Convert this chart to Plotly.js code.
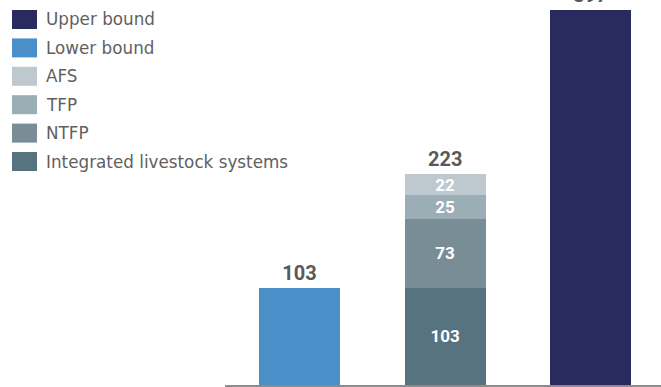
<!DOCTYPE html>
<html>
<head>
<meta charset="utf-8">
<script src="https://cdn.plot.ly/plotly-3.0.1.min.js"></script>
<style>html,body{margin:0;padding:0;background:#fff;}#chart{width:661px;height:387px;}</style>
</head>
<body>
<div id="chart"></div>
<script>
// Data
const categories = [0, 1, 2]; // Lower bound bar, stacked components bar, Upper bound bar
const lowerBound = [103];
const upperBound = [397];
const integratedLivestock = [103];
const ntfp = [73];
const tfp = [25];
const afs = [22];
const stackTotal = [223];

const legendNames = ["Upper bound", "Lower bound", "AFS", "TFP", "NTFP", "Integrated livestock systems"];
const legendColors = ["#292a5e", "#4b8fc9", "#bec9cf", "#9badb5", "#798d97", "#57737f"];

const W = 661, H = 387, ML = 225, MR = 0, MT = 0, MB = 2;
const pw = W - ML - MR, ph = H - MT - MB;
const px = x => (x - ML) / pw;
const py = y => (H - MB - y) / ph;

const barWidth = 0.557;
const numFont = {family: "Roboto, sans-serif", size: 17, color: "#ffffff", weight: "bold"};
const outFont = {family: "Roboto, sans-serif", size: 20, color: "#595959", weight: "bold"};

function seg(name, x, y, color, pos) {
  return {
    type: "bar", name: name, x: x, y: y, width: barWidth,
    marker: {color: color, line: {width: 0}},
    text: y.map(String), textposition: pos, textangle: 0,
    insidetextanchor: "middle", constraintext: "none",
    insidetextfont: numFont, outsidetextfont: outFont,
    cliponaxis: true, hoverinfo: "none", showlegend: false
  };
}

const traces = [
  seg("Lower bound", [categories[0]], lowerBound, legendColors[1], "outside"),
  seg("Integrated livestock systems", [categories[1]], integratedLivestock, legendColors[5], "inside"),
  seg("NTFP", [categories[1]], ntfp, legendColors[4], "inside"),
  seg("TFP", [categories[1]], tfp, legendColors[3], "inside"),
  seg("AFS", [categories[1]], afs, legendColors[2], "inside"),
  seg("Upper bound", [categories[2]], upperBound, legendColors[0], "outside")
];

const shapes = [];
const annotations = [];
const legY0 = 19.5, legStep = 28.4;
legendNames.forEach((n, i) => {
  const cy = legY0 + i * legStep;
  shapes.push({type: "rect", xref: "paper", yref: "paper",
    x0: px(12), x1: px(37), y0: py(cy - 9.5), y1: py(cy + 9.5),
    fillcolor: legendColors[i], line: {width: 0}, layer: "above"});
  annotations.push({xref: "paper", yref: "paper", x: px(44), y: py(cy),
    xanchor: "left", yanchor: "middle", showarrow: false, text: n,
    font: {family: "DejaVu Sans, sans-serif", size: 16.8, color: "#5f5f5f"}});
});
annotations.push({xref: "x", yref: "y", x: categories[1], y: stackTotal[0],
  xanchor: "center", yanchor: "bottom", yshift: 1, showarrow: false,
  text: String(stackTotal[0]), font: outFont});

const layout = {
  width: W, height: H,
  margin: {l: ML, r: MR, t: MT, b: MB, pad: 0},
  paper_bgcolor: "#ffffff", plot_bgcolor: "#ffffff",
  barmode: "stack", bargap: 0,
  showlegend: false,
  xaxis: {range: [-0.512, 2.484], showticklabels: false, ticks: "", showgrid: false,
    zeroline: false, showline: true, linecolor: "#8c8c8c", linewidth: 3, fixedrange: true},
  yaxis: {range: [0, 407.6], visible: false, showgrid: false, zeroline: false, fixedrange: true},
  shapes: shapes,
  annotations: annotations
};

Plotly.newPlot("chart", traces, layout, {displayModeBar: false, staticPlot: true});
</script>
</body>
</html>
